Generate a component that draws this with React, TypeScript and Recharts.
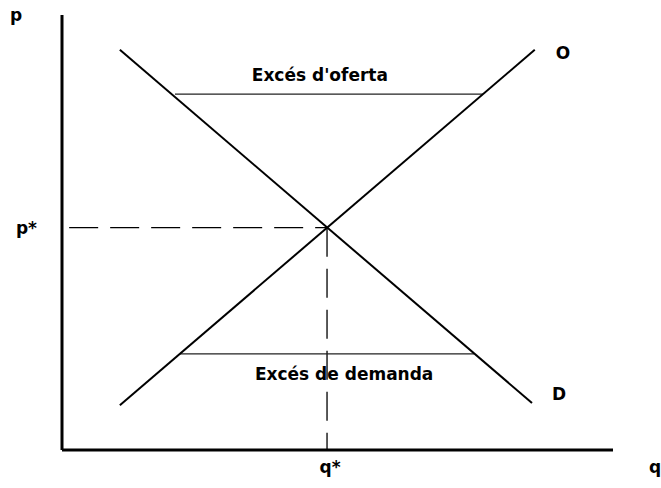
import { LineChart, Line, XAxis, YAxis, ReferenceDot, Label } from 'recharts';

// equilibrium
const Q_STAR = 48.1;
const P_STAR = 51.1;

// curves (q, p) in a 0..100 space
const SUPPLY = [
  { q: 10.5, p: 10.3 },
  { q: 85.8, p: 92 },
];
const DEMAND = [
  { q: 10.5, p: 92 },
  { q: 85.3, p: 10.8 },
];
const EXCESS_SUPPLY = [
  { q: 20.5, p: 81.8 },
  { q: 76.4, p: 81.8 },
];
const EXCESS_DEMAND = [
  { q: 21.4, p: 22.1 },
  { q: 74.8, p: 22.1 },
];
const P_GUIDE = [
  { q: 1.3, p: P_STAR },
  { q: Q_STAR, p: P_STAR },
];
const Q_GUIDE = [
  { q: Q_STAR, p: P_STAR },
  { q: Q_STAR, p: 0 },
];

const CURVE_LABELS = [
  { text: 'O', q: 90.9, p: 91.3 },
  { text: 'D', q: 90.2, p: 12.9 },
  { text: "Excés d'oferta", q: 46.8, p: 86.2 },
  { text: 'Excés de demanda', q: 51.2, p: 17.4 },
];

const FONT = { fontFamily: '"DejaVu Sans", Verdana, sans-serif', fontWeight: 'bold' as const, fontSize: 17, fill: '#000' };

export default function App() {
  return (
    <div style={{ position: 'absolute', left: 0, top: 0, background: '#fff' }}>
      <LineChart width={661} height={488} margin={{ top: 15, right: 48, bottom: 8, left: 12 }}>
        <XAxis
          type="number"
          dataKey="q"
          domain={[0, 100]}
          ticks={[Q_STAR]}
          tickFormatter={() => 'q*'}
          tickLine={false}
          tickSize={0}
          tickMargin={11}
          tick={{ ...FONT, dx: 3 }}
          axisLine={{ stroke: '#000', strokeWidth: 3 }}
          height={30}
        >
          <Label
            content={({ viewBox }: any) => (
              <text x={viewBox.x + viewBox.width + 42} y={viewBox.y + 23} {...FONT} textAnchor="middle">
                q
              </text>
            )}
          />
        </XAxis>
        <YAxis
          type="number"
          dataKey="p"
          domain={[0, 100]}
          ticks={[P_STAR]}
          tickFormatter={() => 'p*'}
          tickLine={false}
          tickSize={0}
          tickMargin={25}
          tick={FONT}
          axisLine={{ stroke: '#000', strokeWidth: 3 }}
          width={50}
        >
          <Label
            content={({ viewBox }: any) => (
              <text x={viewBox.x + 4} y={viewBox.y + 6} {...FONT} textAnchor="middle">
                p
              </text>
            )}
          />
        </YAxis>

        <Line data={P_GUIDE} dataKey="p" type="linear" stroke="#000" strokeWidth={1.3} strokeDasharray="29 12" dot={false} isAnimationActive={false} />
        <Line data={Q_GUIDE} dataKey="p" type="linear" stroke="#000" strokeWidth={1.3} strokeDasharray="29 12" dot={false} isAnimationActive={false} />
        <Line data={EXCESS_SUPPLY} dataKey="p" type="linear" stroke="#222" strokeWidth={1.2} dot={false} isAnimationActive={false} />
        <Line data={EXCESS_DEMAND} dataKey="p" type="linear" stroke="#222" strokeWidth={1.2} dot={false} isAnimationActive={false} />
        <Line data={SUPPLY} dataKey="p" type="linear" stroke="#000" strokeWidth={2} dot={false} isAnimationActive={false} />
        <Line data={DEMAND} dataKey="p" type="linear" stroke="#000" strokeWidth={2} dot={false} isAnimationActive={false} />

        {CURVE_LABELS.map(l => (
          <ReferenceDot
            key={l.text}
            x={l.q}
            y={l.p}
            r={0}
            stroke="none"
            fill="none"
            ifOverflow="visible"
            label={{ value: l.text, position: 'center', ...FONT }}
          />
        ))}
      </LineChart>
    </div>
  );
}
